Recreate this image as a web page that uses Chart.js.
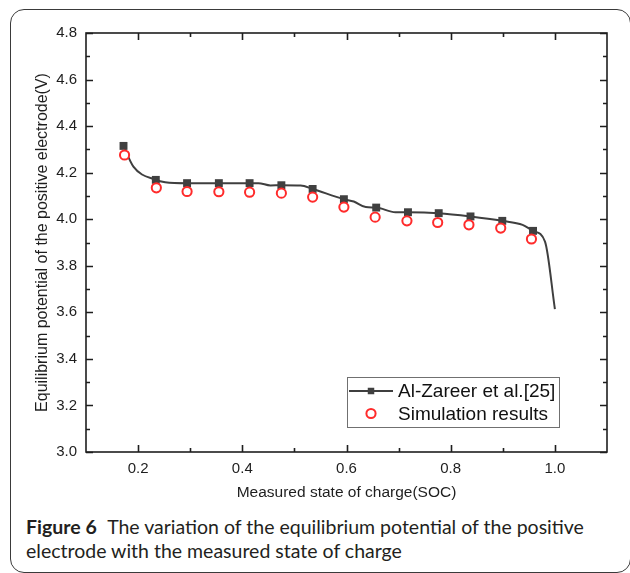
<!DOCTYPE html>
<html>
<head>
<meta charset="utf-8">
<script src="https://cdn.jsdelivr.net/npm/chart.js@4.4.0/dist/chart.umd.min.js"></script>
<style>
  body { margin: 0; background: #fff; width: 630px; height: 573px; overflow: hidden; position: relative; }
  #frame { position: absolute; left: 10px; top: 9px; width: 621px; height: 564px; border: 1.5px solid #3a3a3a; border-radius: 14px; box-sizing: border-box; }
  #chart { position: absolute; left: 0; top: 0; }
  #caption { position: absolute; left: 26px; top: 515px; font-family: Lato, "Noto Sans", sans-serif; font-size: 19.5px; line-height: 23.5px; color: #231f20; white-space: nowrap; }
  #caption b { font-weight: 700; margin-right: 6px; }
</style>
</head>
<body>
<div id="frame"></div>
<canvas id="chart" width="630" height="510"></canvas>
<div id="caption"><b>Figure 6</b> The variation of the equilibrium potential of the positive<br>electrode with the measured state of charge</div>
<script>
// reference curve (Al-Zareer et al.), line through all points
let curveSoc = [0.172, 0.191, 0.234, 0.252, 0.294, 0.355, 0.414, 0.431, 0.454, 0.475, 0.512, 0.535, 0.595, 0.614, 0.637, 0.657, 0.694, 0.718, 0.777, 0.838, 0.899, 0.938, 0.958, 0.981, 1.000]
let curveV   = [4.315, 4.226, 4.169, 4.159, 4.155, 4.155, 4.155, 4.155, 4.145, 4.146, 4.145, 4.130, 4.086, 4.076, 4.052, 4.050, 4.030, 4.030, 4.026, 4.012, 3.993, 3.976, 3.950, 3.904, 3.614]

// square markers on the reference curve
let refSoc = [0.172, 0.234, 0.294, 0.355, 0.414, 0.475, 0.535, 0.595, 0.657, 0.718, 0.777, 0.838, 0.899, 0.958]
let refV   = [4.315, 4.169, 4.155, 4.155, 4.155, 4.146, 4.130, 4.086, 4.050, 4.030, 4.026, 4.012, 3.993, 3.950]

// simulation results (open circles)
let simSoc = [0.174, 0.235, 0.294, 0.355, 0.414, 0.475, 0.535, 0.595, 0.655, 0.716, 0.775, 0.835, 0.896, 0.955]
let simV   = [4.276, 4.135, 4.119, 4.118, 4.116, 4.112, 4.095, 4.052, 4.009, 3.993, 3.986, 3.976, 3.962, 3.915]

let xTicks = [0.2, 0.4, 0.6, 0.8, 1.0]
let xMinor = [0.3, 0.5, 0.7, 0.9]
let yTicks = [3.0, 3.2, 3.4, 3.6, 3.8, 4.0, 4.2, 4.4, 4.6, 4.8]
let yMinor = [3.1, 3.3, 3.5, 3.7, 3.9, 4.1, 4.3, 4.5, 4.7]

const FONT = '"Liberation Sans", Arial, sans-serif'
const INK = '#1e1e1e'

function pts(xs, ys) {
    return xs.map((x, i) => ({ x: x, y: ys[i] }))
}

// box around the plot with inward ticks on all four sides
const frameTicks = {
    id: 'frameTicks',
    afterDatasetsDraw(chart) {
        const { ctx, chartArea: a, scales: { x, y } } = chart
        ctx.save()
        ctx.strokeStyle = INK
        ctx.lineWidth = 1.6
        ctx.beginPath()
        const vTick = (vals, len) => vals.forEach(v => {
            const px = Math.round(x.getPixelForValue(v)) + 0.5
            ctx.moveTo(px, a.bottom); ctx.lineTo(px, a.bottom - len)
            ctx.moveTo(px, a.top); ctx.lineTo(px, a.top + len)
        })
        const hTick = (vals, len) => vals.forEach(v => {
            const py = Math.round(y.getPixelForValue(v)) + 0.5
            ctx.moveTo(a.left, py); ctx.lineTo(a.left + len, py)
            ctx.moveTo(a.right, py); ctx.lineTo(a.right - len, py)
        })
        vTick(xTicks, 7); vTick(xMinor, 4)
        hTick(yTicks, 7); hTick(yMinor, 4)
        ctx.stroke()
        ctx.strokeRect(a.left, a.top, a.width, a.height)
        ctx.restore()
    }
}

// legend box in the lower right of the plot
const boxLegend = {
    id: 'boxLegend',
    afterDraw(chart) {
        const { ctx, chartArea: a } = chart
        const ref = chart.data.datasets[1]
        const sim = chart.data.datasets[2]
        const curve = chart.data.datasets[0]
        const left = a.right - 260, top = a.bottom - 75
        ctx.save()
        ctx.strokeStyle = '#707070'
        ctx.lineWidth = 1
        ctx.strokeRect(left + 0.5, top + 0.5, 212, 50)

        const row1 = top + 14, row2 = top + 36.5
        ctx.strokeStyle = curve.borderColor
        ctx.lineWidth = curve.borderWidth
        ctx.beginPath()
        ctx.moveTo(left + 2, row1); ctx.lineTo(left + 46, row1)
        ctx.stroke()
        ctx.fillStyle = ref.backgroundColor
        Chart.helpers.drawPoint(ctx, { pointStyle: 'rect', radius: 4.6, borderWidth: 0, rotation: 0 }, left + 24, row1)
        ctx.fillStyle = '#fff'
        ctx.strokeStyle = sim.borderColor
        ctx.lineWidth = sim.borderWidth
        Chart.helpers.drawPoint(ctx, { pointStyle: 'circle', radius: sim.pointRadius, borderWidth: sim.borderWidth, rotation: 0 }, left + 24, row2)

        ctx.fillStyle = '#111'
        ctx.font = '19px ' + FONT
        ctx.textBaseline = 'middle'
        ctx.fillText(ref.label, left + 51, row1 + 1)
        ctx.fillText(sim.label, left + 51, row2 + 1)
        ctx.restore()
    }
}

const ctx = document.getElementById('chart').getContext('2d')
const chart = new Chart(ctx, {
    type: 'scatter',
    data: {
        datasets: [{
            label: 'Al-Zareer et al.[25] curve',
            data: pts(curveSoc, curveV),
            showLine: true,
            borderColor: '#3f3f3f',
            borderWidth: 2,
            pointRadius: 0,
            cubicInterpolationMode: 'monotone',
            order: 3
        }, {
            label: 'Al-Zareer et al.[25]',
            data: pts(refSoc, refV),
            showLine: false,
            pointStyle: 'rect',
            pointRadius: 5.6,
            backgroundColor: '#404040',
            borderWidth: 0,
            order: 2
        }, {
            label: 'Simulation results',
            data: pts(simSoc, simV),
            showLine: false,
            pointStyle: 'circle',
            pointRadius: 4.6,
            borderWidth: 2,
            borderColor: '#ff2b2b',
            backgroundColor: '#ffffff',
            order: 1
        }]
    },
    options: {
        responsive: false,
        animation: false,
        devicePixelRatio: 1,
        events: [],
        layout: { padding: { top: 33, right: 23, bottom: 0, left: 0 } },
        plugins: { legend: { display: false }, tooltip: { enabled: false } },
        scales: {
            x: {
                type: 'linear',
                min: 0.1,
                max: 1.1,
                afterBuildTicks: s => { s.ticks = xTicks.map(v => ({ value: v })) },
                afterFit: s => { s.height = 58 },
                grid: { display: false, drawTicks: false },
                border: { display: false },
                ticks: { callback: v => v.toFixed(1), font: { family: FONT, size: 15 }, color: INK, padding: 8, maxRotation: 0, autoSkip: false },
                title: { display: true, text: 'Measured state of charge(SOC)', font: { family: FONT, size: 15.5 }, color: INK, padding: { top: 0, bottom: 8 } }
            },
            y: {
                type: 'linear',
                min: 3.0,
                max: 4.8,
                afterBuildTicks: s => { s.ticks = yTicks.map(v => ({ value: v })) },
                afterFit: s => { s.width = 86 },
                grid: { display: false, drawTicks: false },
                border: { display: false },
                ticks: { callback: v => v.toFixed(1), font: { family: FONT, size: 15 }, color: INK, padding: 9, autoSkip: false },
                title: { display: true, text: 'Equilibrium potential of the positive electrode(V)', font: { family: FONT, size: 16 }, color: INK, padding: { top: 33, bottom: 0 } }
            }
        }
    },
    plugins: [frameTicks, boxLegend]
})
</script>
</body>
</html>
